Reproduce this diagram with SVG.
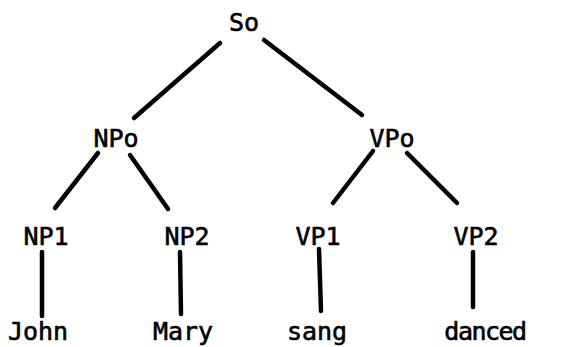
<svg xmlns="http://www.w3.org/2000/svg" width="587" height="347" viewBox="0 0 587 347">
<style>
text{font-family:"DejaVu Sans Mono","Liberation Mono",monospace;font-size:25px;fill:#000;stroke:#000;stroke-width:0.6;text-anchor:middle}
.e{stroke:#000;stroke-width:4.5;stroke-linecap:round;fill:none}
</style>
<rect width="587" height="347" fill="#fff"/>
<g id="edges">
<line class="e" x1="220" y1="43" x2="134" y2="118"/>
<line class="e" x1="264" y1="40" x2="362" y2="115"/>
<line class="e" x1="98" y1="153" x2="55" y2="208"/>
<line class="e" x1="130" y1="155" x2="168" y2="209"/>
<line class="e" x1="373" y1="151" x2="333" y2="203"/>
<line class="e" x1="407" y1="153" x2="457" y2="203"/>
<line class="e" x1="42" y1="252" x2="42" y2="316"/>
<line class="e" x1="180" y1="252" x2="181" y2="314"/>
<line class="e" x1="319" y1="249" x2="321" y2="311"/>
<line class="e" x1="473" y1="252" x2="473" y2="307"/>
</g>
<g id="So"><text x="244" y="31">So</text></g>
<g id="NPo"><text x="116" y="147">NPo</text></g>
<g id="VPo"><text x="392" y="147">VPo</text></g>
<g id="NP1"><text x="46" y="245">NP1</text></g>
<g id="NP2"><text x="187" y="245">NP2</text></g>
<g id="VP1"><text x="318" y="245">VP1</text></g>
<g id="VP2"><text x="476" y="245">VP2</text></g>
<g id="John"><text x="38" y="340">John</text></g>
<g id="Mary"><text x="183" y="340">Mary</text></g>
<g id="sang"><text x="317" y="340">sang</text></g>
<g id="danced"><text x="485" y="340" letter-spacing="-1.5">danced</text></g>
</svg>
